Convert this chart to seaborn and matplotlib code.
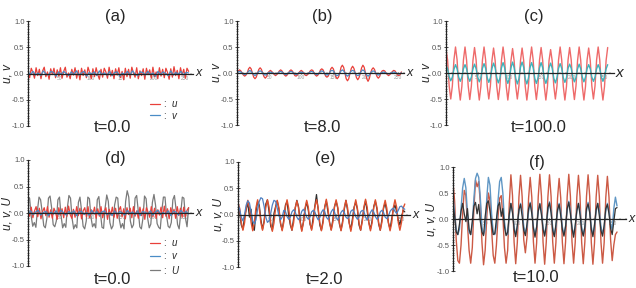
import numpy as np
import matplotlib
matplotlib.use('Agg')
import matplotlib.pyplot as plt
from matplotlib.ticker import MultipleLocator
import seaborn as sns

sns.set_style('white')
plt.rcParams['font.family'] = ['Liberation Sans', 'DejaVu Sans']
plt.rcParams['mathtext.fontset'] = 'custom'
plt.rcParams['mathtext.it'] = 'Liberation Sans:italic'
plt.rcParams['mathtext.rm'] = 'Liberation Sans'
plt.rcParams['axes.unicode_minus'] = False

# ---- data (x runs 0..256 in every panel) ----
# (a) t=0.0, small noise
u_a = [0.06, -0.08, 0.10, 0.02, -0.09, 0.11, -0.04, 0.08, -0.10, 0.05, 0.12, -0.06, 0.03, -0.11, 0.09, -0.02, 0.10, -0.08, 0.07, -0.05,
       0.11, -0.09, 0.04, 0.12, -0.07, 0.01, -0.10, 0.08, -0.03, 0.11, -0.09, 0.06, -0.12, 0.10, -0.04, 0.07, -0.08, 0.12, 0.02, -0.10,
       0.09, -0.06, 0.11, -0.02, -0.11, 0.08, -0.07, 0.10, 0.03, -0.09, 0.12, -0.05, 0.06, -0.10, 0.09, -0.03, 0.11, -0.08, 0.04, -0.12,
       0.10, -0.06, 0.08, -0.09, 0.12, 0.01, -0.07, 0.11, -0.10, 0.05, -0.04, 0.09, -0.11, 0.10, -0.02, 0.07, -0.09, 0.12, -0.06, 0.03,
       -0.10, 0.11, -0.05, 0.08, -0.08, 0.10, 0.02, -0.11, 0.09, -0.07, 0.13, -0.04, 0.06, -0.10, 0.11, -0.03, 0.08, -0.09, 0.10, 0.04]
v_a = [0.03, -0.02, 0.04, -0.03, 0.01, -0.04, 0.05, -0.01, -0.03, 0.04, 0.02, -0.05, 0.03, -0.02, 0.04, 0.00,
       -0.04, 0.03, -0.02, 0.05, -0.03, 0.01, 0.04, -0.05, 0.02, -0.01, 0.03, -0.04, 0.05, -0.02, 0.01, -0.03,
       0.04, -0.04, 0.02, 0.03, -0.05, 0.01, -0.02, 0.04, -0.03, 0.05, -0.01, -0.04, 0.03, 0.02, -0.03, 0.04,
       -0.02, 0.01, -0.05, 0.04, -0.02, 0.03, 0.00, -0.04, 0.05, -0.03, 0.02, -0.01, 0.04, -0.03, 0.02, 0.01]

# (b) t=8.0, wave packets
u_b = [0, 0.04, 0.06, 0.04, 0, -0.04, -0.06, -0.04,
       0, 0.08, 0.11, 0.08, 0, -0.08, -0.11, -0.08,
       0, 0.07, 0.10, 0.07, 0, -0.07, -0.10, -0.07,
       0, 0.03, 0.05, 0.03, 0, -0.03, -0.05, -0.03,
       0, 0.04, 0.06, 0.04, 0, -0.04, -0.06, -0.04,
       0, 0.04, 0.06, 0.04, 0, -0.05, -0.06, -0.04,
       0, 0.03, 0.05, 0.03, 0, -0.04, -0.05, -0.03,
       0, 0.04, 0.06, 0.05, 0, -0.04, -0.06, -0.04,
       0, 0.06, 0.08, 0.06, 0, -0.06, -0.08, -0.06,
       0, 0.08, 0.11, 0.08, 0, -0.08, -0.11, -0.08,
       0, 0.11, 0.15, 0.11, 0, -0.11, -0.15, -0.11,
       0, 0.09, 0.13, 0.09, 0, -0.09, -0.13, -0.09,
       0, 0.10, 0.15, 0.11, 0, -0.11, -0.16, -0.11,
       0, 0.07, 0.10, 0.07, 0, -0.07, -0.10, -0.07,
       0, 0.04, 0.05, 0.04, 0, -0.03, -0.05, -0.03,
       0, 0.03, 0.05, 0.04, 0, -0.04, -0.05, -0.03,
       0.02]
v_b = [0, 0.02, 0.03, 0.02, 0, -0.02, -0.03, -0.02,
       0, 0.03, 0.05, 0.03, 0, -0.03, -0.05, -0.03,
       0, 0.03, 0.04, 0.03, 0, -0.03, -0.04, -0.03,
       0, 0.01, 0.02, 0.01, 0, -0.01, -0.02, -0.01,
       0, 0.02, 0.03, 0.02, 0, -0.02, -0.03, -0.02,
       0, 0.02, 0.03, 0.02, 0, -0.02, -0.03, -0.02,
       0, 0.01, 0.02, 0.01, 0, -0.01, -0.02, -0.01,
       0, 0.02, 0.03, 0.02, 0, -0.02, -0.03, -0.02,
       0, 0.03, 0.04, 0.03, 0, -0.03, -0.04, -0.03,
       0, 0.04, 0.05, 0.04, 0, -0.04, -0.05, -0.04,
       0, 0.04, 0.06, 0.04, 0, -0.04, -0.06, -0.04,
       0, 0.04, 0.05, 0.04, 0, -0.04, -0.05, -0.04,
       0, 0.04, 0.06, 0.04, 0, -0.04, -0.06, -0.04,
       0, 0.03, 0.04, 0.03, 0, -0.03, -0.04, -0.03,
       0, 0.01, 0.02, 0.01, 0, -0.01, -0.02, -0.01,
       0, 0.01, 0.02, 0.01, 0, -0.01, -0.02, -0.01,
       0]

# (c) t=100.0, regular pattern
u_c = [0.46, 0.25, -0.25, -0.50, -0.25, 0.25, 0.50, 0.25, -0.26, -0.52, -0.26, 0.25,
       0.50, 0.24, -0.25, -0.51, -0.25, 0.24, 0.49, 0.25, -0.26, -0.52, -0.26, 0.25,
       0.50, 0.25, -0.25, -0.50, -0.25, 0.24, 0.48, 0.24, -0.25, -0.51, -0.26, 0.25,
       0.50, 0.25, -0.26, -0.52, -0.25, 0.24, 0.47, 0.23, -0.25, -0.50, -0.25, 0.24,
       0.48, 0.24, -0.26, -0.52, -0.26, 0.25, 0.50, 0.25, -0.25, -0.51, -0.25, 0.25,
       0.49, 0.24, -0.26, -0.52, -0.26, 0.24, 0.45, 0.23, -0.25, -0.50, -0.25, 0.25,
       0.50, 0.25, -0.26, -0.52, -0.26, 0.25, 0.49, 0.25, -0.25, -0.51, -0.25, 0.24,
       0.50, 0.24, -0.26, -0.52, -0.26, 0.25, 0.48, 0.24, -0.25, -0.50, -0.25, 0.25,
       0.50, 0.25, -0.26, -0.52, -0.26, 0.24, 0.49]
v_c = [0.15, 0.08, -0.07, -0.15, -0.08, 0.07, 0.16, 0.08, -0.08, -0.16, -0.08, 0.08,
       0.16, 0.08, -0.08, -0.16, -0.08, 0.08, 0.17, 0.08, -0.08, -0.17, -0.09, 0.09,
       0.18, 0.09, -0.09, -0.18, -0.09, 0.09, 0.19, 0.10, -0.09, -0.19, -0.10, 0.10,
       0.20, 0.10, -0.10, -0.20, -0.10, 0.10, 0.21, 0.10, -0.10, -0.21, -0.11, 0.11,
       0.21, 0.11, -0.11, -0.21, -0.10, 0.10, 0.20, 0.10, -0.10, -0.20, -0.10, 0.10,
       0.20, 0.10, -0.10, -0.20, -0.10, 0.10, 0.19, 0.09, -0.10, -0.19, -0.09, 0.09,
       0.18, 0.09, -0.09, -0.18, -0.09, 0.09, 0.17, 0.09, -0.08, -0.17, -0.09, 0.08,
       0.17, 0.08, -0.08, -0.17, -0.08, 0.08, 0.16, 0.08, -0.08, -0.16, -0.08, 0.08,
       0.16, 0.08, -0.08, -0.16, -0.08, 0.08, 0.16]

# (d) t=0.0 with U
u_d = [0.08, -0.06, 0.11, -0.09, 0.04, 0.12, -0.07, 0.09, -0.11, 0.03, 0.10, -0.05, 0.12, -0.08, 0.06, -0.10, 0.09, 0.01, -0.12, 0.10,
       -0.04, 0.08, -0.09, 0.11, -0.06, 0.13, -0.03, -0.10, 0.07, -0.08, 0.12, -0.05, 0.09, -0.11, 0.04, 0.10, -0.07, 0.12, -0.09, 0.06,
       -0.02, 0.11, -0.10, 0.08, -0.06, 0.12, -0.09, 0.03, 0.10, -0.12, 0.07, -0.04, 0.11, -0.08, 0.09, -0.10, 0.05, 0.12, -0.07, 0.08,
       -0.11, 0.10, -0.03, 0.09, -0.09, 0.12, -0.06, 0.04, -0.10, 0.11, -0.05, 0.08, -0.12, 0.10, 0.02, -0.08, 0.12, -0.07, 0.09, -0.10,
       0.06, -0.04, 0.11, -0.09, 0.13, -0.06, 0.08, -0.11, 0.10, -0.03, 0.07, -0.10, 0.12, -0.05, 0.09, -0.08, 0.11, -0.07, 0.05, 0.10]
v_d = [-0.02, 0.04, -0.03, 0.02, 0.05, -0.04, 0.01, 0.03, -0.05, 0.02, -0.02, 0.04, -0.03, 0.05, 0.00, -0.04,
       0.03, -0.01, 0.04, -0.05, 0.02, 0.03, -0.03, 0.01, -0.04, 0.05, -0.02, 0.03, -0.04, 0.02, 0.04, -0.03,
       0.01, -0.05, 0.04, -0.02, 0.03, 0.00, -0.04, 0.05, -0.01, 0.02, -0.03, 0.04, -0.05, 0.03, 0.01, -0.02,
       0.04, -0.04, 0.02, 0.05, -0.03, 0.01, -0.02, 0.04, -0.05, 0.03, 0.02, -0.04, 0.05, -0.01, 0.03, -0.02]
U_d = [0.30, 0.28, -0.05, -0.25, -0.18, -0.27, 0.05, 0.30, 0.25, 0.02, -0.24, -0.28,
       -0.10, 0.28, 0.32, 0.10, -0.22, -0.26, -0.15, 0.25, 0.30, -0.05, -0.28, -0.20,
       -0.27, 0.10, 0.33, 0.28, -0.10, -0.30, -0.22, -0.28, 0.20, 0.30, 0.05, -0.25,
       -0.30, -0.15, 0.30, 0.27, -0.08, -0.26, -0.20, -0.28, 0.25, 0.31, 0.00, -0.27,
       -0.29, 0.10, 0.34, 0.22, -0.18, -0.30, -0.24, 0.15, 0.30, 0.28, -0.12, -0.28,
       -0.20, -0.30, 0.22, 0.42, 0.30, -0.15, -0.28, -0.22, 0.28, 0.33, 0.05, -0.26,
       -0.30, -0.10, 0.32, 0.27, -0.10, -0.28, -0.21, 0.20, 0.35, 0.15, -0.20, -0.27,
       -0.30, 0.05, 0.30, 0.30, -0.05, -0.25, -0.28, -0.18, 0.25, 0.33, 0.08, -0.22,
       -0.30, 0.00, 0.30, 0.28, -0.10, -0.26, 0.10]

# (e) t=2.0
u_e = [0.22, 0.12, -0.15, -0.30, -0.16, 0.12, 0.27, 0.13, -0.15, -0.31, -0.15, 0.13,
       0.28, 0.12, -0.16, -0.30, -0.14, 0.14, 0.28, 0.14, -0.16, -0.32, -0.16, 0.13,
       0.27, 0.13, -0.15, -0.31, -0.15, 0.14, 0.28, 0.12, -0.16, -0.30, -0.16, 0.13,
       0.26, 0.13, -0.15, -0.32, -0.15, 0.12, 0.27, 0.14, -0.16, -0.30, -0.14, 0.14,
       0.28, 0.13, -0.15, -0.31, -0.16, 0.13, 0.29, 0.12, -0.16, -0.30, -0.15, 0.14,
       0.28, 0.14, -0.15, -0.31, -0.16, 0.13, 0.27, 0.13, -0.16, -0.32, -0.15, 0.12,
       0.28, 0.12, -0.15, -0.30, -0.14, 0.14, 0.29, 0.14, -0.16, -0.31, -0.16, 0.13,
       0.28, 0.13, -0.15, -0.30, -0.15, 0.14, 0.27, 0.12, -0.16, -0.31, -0.16, 0.13,
       0.28, 0.14, -0.15, -0.30, -0.15, 0.12, 0.20]
v_e = [0.20, 0.10, -0.05, -0.12, 0.00, 0.18, 0.26, 0.22, 0.05, -0.12, -0.18, -0.10,
       0.10, 0.25, 0.32, 0.30, 0.15, -0.05, -0.15, -0.12, 0.02, 0.18, 0.27, 0.25,
       0.12, -0.02, -0.10, -0.05, 0.08, 0.06, -0.04, -0.09, -0.05, 0.05,
       0.09, 0.05, -0.05, -0.10, -0.04, 0.06, 0.10, 0.04, -0.05, -0.09, -0.05, 0.05,
       0.08, 0.05, -0.04, -0.10, -0.06, 0.04, 0.09, 0.06, -0.05, -0.09, -0.04, 0.05,
       0.10, 0.05, -0.06, -0.10, -0.05, 0.04, 0.08, 0.04, -0.05, -0.08, -0.04, 0.06,
       0.09, 0.05, -0.04, -0.09, -0.05, 0.05, 0.08, 0.06, -0.05, -0.10, -0.04, 0.04,
       0.09, 0.05, -0.04, -0.09, -0.05, 0.05, 0.08, 0.04, -0.05, -0.08, -0.03, 0.06,
       0.10, 0.12, 0.06, 0.02, 0.08, 0.15, 0.16, 0.12, 0.10]
U_e = [0.15, 0.05, -0.20, -0.28, -0.05, 0.10, 0.22, -0.05, 0.10, -0.25, -0.30, 0.05,
       0.25, 0.18, -0.10, -0.28, -0.12, 0.20, 0.28, 0.05, -0.22, -0.30, 0.02, 0.15,
       0.26, 0.10, -0.18, -0.29, -0.10, 0.18, 0.25, -0.02, -0.20, -0.30, -0.08, 0.12,
       0.27, 0.15, -0.12, -0.30, -0.15, 0.10, 0.24, 0.08, -0.18, -0.28, -0.05, 0.16,
       0.38, 0.10, -0.20, -0.30, -0.12, 0.14, 0.26, 0.05, -0.15, -0.29, -0.10, 0.15,
       0.25, 0.12, -0.18, -0.30, -0.12, 0.10, 0.27, 0.08, -0.16, -0.29, -0.08, 0.14,
       0.24, 0.10, -0.20, -0.30, -0.10, 0.12, 0.26, 0.06, -0.15, -0.28, -0.12, 0.15,
       0.25, 0.10, -0.18, -0.30, -0.10, 0.12, 0.22, 0.05, -0.16, -0.28, -0.08, 0.10,
       0.18, 0.06, -0.10, -0.20, -0.05, 0.08, 0.05]

# (f) t=10.0
u_f = [0.70, 0.35, -0.40, -0.80, -0.85, -0.50, 0.10, 0.55, 0.45, -0.10, -0.60, -0.85,
       -0.55, 0.20, 0.75, 0.62, 0.72, 0.30, -0.45, -0.88, -0.60, 0.05, 0.50, 0.35,
       -0.20, -0.70, -0.85, -0.50, 0.05, 0.40, 0.45, 0.05, -0.55, -0.85, -0.60, 0.30,
       0.85, 0.45, -0.45, -0.86, -0.45, 0.42, 0.84, 0.43, -0.40, -0.65, -0.35, 0.40,
       0.80, 0.42, -0.44, -0.85, -0.46, 0.43, 0.86, 0.44, -0.45, -0.87, -0.44, 0.42,
       0.85, 0.43, -0.44, -0.85, -0.45, 0.40, 0.78, 0.40, -0.45, -0.86, -0.44, 0.43,
       0.86, 0.44, -0.44, -0.85, -0.45, 0.42, 0.84, 0.43, -0.45, -0.86, -0.44, 0.43,
       0.85, 0.44, -0.45, -0.87, -0.46, 0.42, 0.84, 0.43, -0.44, -0.85, -0.45, 0.41,
       0.82, 0.42, -0.40, -0.80, -0.50, -0.30, -0.25]
v_f = [0.45, 0.10, -0.20, -0.30, -0.20, 0.20, 0.60, 0.78, 0.60, 0.10, -0.25, -0.30,
       -0.10, 0.40, 0.78, 0.88, 0.80, 0.40, -0.15, -0.30, -0.20, 0.40, 0.80, 0.65,
       0.10, -0.25, -0.30, -0.15, 0.35, 0.72, 0.80, 0.50, -0.05, -0.28, -0.30, 0.05,
       0.30, 0.15, -0.15, -0.30, -0.15, 0.15, 0.30, 0.15, -0.14, -0.28, -0.15, 0.14,
       0.32, 0.16, -0.15, -0.30, -0.16, 0.15, 0.30, 0.14, -0.15, -0.30, -0.15, 0.15,
       0.33, 0.15, -0.16, -0.31, -0.15, 0.14, 0.30, 0.15, -0.15, -0.30, -0.14, 0.16,
       0.34, 0.16, -0.15, -0.30, -0.15, 0.15, 0.30, 0.14, -0.15, -0.31, -0.16, 0.15,
       0.32, 0.15, -0.15, -0.30, -0.15, 0.14, 0.30, 0.15, -0.14, -0.29, -0.15, 0.15,
       0.30, 0.15, -0.10, -0.20, 0.20, 0.42, 0.25]
U_f = [0.30, 0.05, -0.25, -0.30, -0.10, 0.15, 0.30, 0.10, -0.05, 0.20, -0.20, -0.30,
       -0.05, 0.25, 0.32, 0.10, 0.28, -0.05, -0.25, -0.32, 0.05, 0.30, 0.35, 0.15,
       -0.10, -0.30, -0.28, 0.00, 0.25, 0.32, 0.05, 0.20, -0.15, -0.32, -0.25, 0.10,
       0.30, 0.12, -0.20, -0.34, -0.12, 0.18, 0.28, 0.05, -0.22, -0.32, -0.10, 0.20,
       0.30, 0.10, -0.18, -0.35, -0.15, 0.15, 0.29, 0.08, -0.20, -0.33, -0.12, 0.22,
       0.31, 0.12, -0.22, -0.34, -0.10, 0.18, 0.28, 0.06, -0.20, -0.33, -0.14, 0.20,
       0.32, 0.10, -0.18, -0.35, -0.12, 0.16, 0.30, 0.08, -0.21, -0.33, -0.15, 0.20,
       0.29, 0.12, -0.20, -0.34, -0.10, 0.18, 0.30, 0.06, -0.22, -0.33, -0.12, 0.20,
       0.28, 0.10, -0.18, -0.30, -0.05, 0.20, 0.22]

titles = ['(a)', '(b)', '(c)', '(d)', '(e)', '(f)']
times = ['t=0.0', 't=8.0', 't=100.0', 't=0.0', 't=2.0', 't=10.0']
ylabels = ['u, v', 'u, v', 'u, v', 'u, v, U', 'u, v, U', 'u, v, U']
x_max = 256

# colours
RED = '#e8403a'
BLUE = '#4a8cc6'
GRAY = '#7a7a7a'

W, H = 636, 288
fig = plt.figure(figsize=(W / 100, H / 100), dpi=100)


def px_axes(left, right, top, bottom):
    return fig.add_axes([left / W, 1 - bottom / H, (right - left) / W, (bottom - top) / H])


def px_text(x, y, s, **kw):
    fig.text(x / W, 1 - y / H, s, ha='center', va='center', **kw)


def draw(ax, series):
    for vals, col, lw, lab in series:
        xs = np.linspace(0, x_max, len(vals))
        sns.lineplot(x=xs, y=vals, ax=ax, color=col, linewidth=lw, label=lab,
                     sort=False, estimator=None, legend=False)


def style(ax, xmax, ylabel, label_x, xlab_size=9):
    ax.set_xlim(0, xmax)
    ax.set_ylim(-1, 1)
    ax.spines['bottom'].set_position(('data', 0))
    ax.spines['top'].set_visible(False)
    ax.spines['right'].set_visible(False)
    for s in ('left', 'bottom'):
        ax.spines[s].set_color('#222222')
        ax.spines[s].set_linewidth(0.9)
    ax.yaxis.set_major_locator(MultipleLocator(0.5))
    ax.yaxis.set_minor_locator(MultipleLocator(0.05))
    ax.xaxis.set_major_locator(MultipleLocator(50))
    ax.xaxis.set_minor_locator(MultipleLocator(10))
    ax.xaxis.set_major_formatter(lambda v, p: '' if v == 0 else f'{v:.0f}')
    ax.yaxis.set_major_formatter(lambda v, p: f'{v:.1f}')
    ax.tick_params(axis='y', which='major', direction='inout', length=3, width=0.6,
                   labelsize=5.5, labelcolor='#555555', pad=1, left=True)
    ax.tick_params(axis='y', which='minor', direction='inout', length=1.6, width=0.4, left=True)
    ax.tick_params(axis='x', which='major', direction='inout', length=2, width=0.5,
                   labelsize=3.5, labelcolor='#999999', pad=0.5, bottom=True)
    ax.tick_params(axis='x', which='minor', direction='inout', length=1, width=0.3, bottom=True)
    ax.set_ylabel(ylabel, style='italic', fontsize=8.5)
    ax.yaxis.set_label_coords(label_x, 0.5)
    ax.set_xlabel('')
    ax.text(1.035, 0, 'x', transform=ax.get_yaxis_transform(), style='italic',
            fontsize=xlab_size, ha='center', va='center')
    ax.set_facecolor('none')


ax_a = px_axes(28, 193, 21, 126)
draw(ax_a, [(u_a, RED, 0.9, r':  $u$'), (v_a, BLUE, 0.9, r':  $v$')])
style(ax_a, 263, ylabels[0], -0.085)
ax_a.legend(loc='upper left', bbox_to_anchor=(0.71, 0.3), frameon=False, fontsize=7,
            handlelength=1.0, handletextpad=0.3, labelspacing=0.15, borderpad=0)

ax_b = px_axes(237, 404, 21, 125)
draw(ax_b, [(u_b, RED, 0.9, None), (v_b, BLUE, 0.9, None)])
style(ax_b, 260, ylabels[1], -0.084)

ax_c = px_axes(446, 614, 21, 125)
draw(ax_c, [(u_c, '#ee6a6a', 1.0, None), (v_c, '#3cb4bc', 1.0, None)])
style(ax_c, 266, ylabels[2], -0.078, xlab_size=11)

ax_d = px_axes(28, 193, 160, 266)
draw(ax_d, [(U_d, GRAY, 0.9, r':  $U$'), (u_d, RED, 0.9, r':  $u$'), (v_d, BLUE, 0.9, r':  $v$')])
style(ax_d, 263, ylabels[3], -0.085)
hd, ld = ax_d.get_legend_handles_labels()
ax_d.legend([hd[1], hd[2], hd[0]], [ld[1], ld[2], ld[0]], loc='upper left',
            bbox_to_anchor=(0.71, 0.31), frameon=False, fontsize=7,
            handlelength=1.0, handletextpad=0.3, labelspacing=0.3, borderpad=0)

ax_e = px_axes(238, 410, 162, 267)
draw(ax_e, [(U_e, '#2e2e2e', 0.9, None), (u_e, '#e0502e', 1.0, None), (v_e, '#4f80c2', 0.9, None)])
style(ax_e, 264, ylabels[4], -0.081)

ax_f = px_axes(453, 626, 167, 271)
draw(ax_f, [(u_f, '#cc5a45', 1.0, None), (v_f, '#5f96c4', 1.0, None), (U_f, '#333333', 0.9, None)])
style(ax_f, 270, ylabels[5], -0.087)

# panel titles and times
for (tx, ty), s in zip([(115, 16), (322, 17), (534, 16), (115, 159), (325, 159), (537, 162)], titles):
    px_text(tx, ty, s, fontsize=12)
for (tx, ty), s in zip([(112, 128), (322, 128), (539, 128), (112, 279), (324, 279), (536, 277)], times):
    px_text(tx, ty, s, fontsize=12)

fig.savefig('out.png', dpi=100)
